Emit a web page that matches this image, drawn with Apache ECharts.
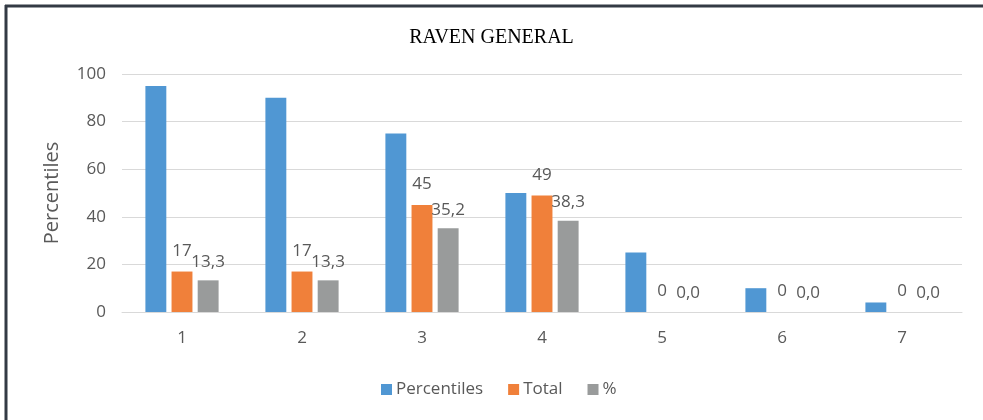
<!DOCTYPE html>
<html>
<head>
<meta charset="utf-8">
<script src="https://cdn.jsdelivr.net/npm/echarts@6/dist/echarts.min.js"></script>
<style>html,body{margin:0;padding:0;background:#fff;}#c{width:983px;height:420px;}</style>
</head>
<body>
<div id="c"></div>
<script>
var categories = ['1','2','3','4','5','6','7'];
var percentiles = [95, 90, 75, 50, 25, 10, 4];
var total = [17, 17, 45, 49, 0, 0, 0];
var pct = [13.3, 13.3, 35.2, 38.3, 0.0, 0.0, 0.0];
var seriesNames = ['Percentiles', 'Total', '%'];
var yTicks = [0, 20, 40, 60, 80, 100];

var chart = echarts.init(document.getElementById('c'));
var txt = '#595959';
var font = 'Open Sans';
chart.setOption({
  animation: false,
  backgroundColor: '#fff',
  title: {
    text: 'RAVEN GENERAL', left: 'center', top: 23,
    textStyle: { fontFamily: 'Liberation Serif', fontSize: 20, fontWeight: 'normal', color: '#000' }
  },
  graphic: [
    { type: 'line', shape: { x1: 5, y1: 6, x2: 983, y2: 6 }, style: { stroke: '#333a44', lineWidth: 3 } },
    { type: 'line', shape: { x1: 6, y1: 5, x2: 6, y2: 420 }, style: { stroke: '#333a44', lineWidth: 3 } }
  ],
  legend: {
    data: seriesNames, left: 376, top: 376, itemWidth: 11, itemHeight: 11, itemGap: 25,
    icon: 'rect',
    textStyle: { fontFamily: font, fontSize: 17, color: txt, padding: [0, 0, 0, -1] }
  },
  grid: { left: 122, right: 21, top: 74, bottom: 108 },
  xAxis: {
    type: 'category', data: categories,
    axisLine: { lineStyle: { color: '#d9d9d9' } },
    axisTick: { show: false },
    axisLabel: { fontFamily: font, fontSize: 17, color: txt, margin: 18 }
  },
  yAxis: {
    type: 'value', min: yTicks[0], max: yTicks[yTicks.length - 1], interval: 20,
    name: 'Percentiles', nameLocation: 'middle', nameGap: 60,
    nameTextStyle: { fontFamily: font, fontSize: 20, color: txt },
    axisLine: { show: false }, axisTick: { show: false },
    splitLine: { lineStyle: { color: '#d9d9d9' } },
    axisLabel: { fontFamily: font, fontSize: 17, color: txt, margin: 16 }
  },
  series: [
    { name: seriesNames[0], type: 'bar', data: percentiles, barGap: '25%', barCategoryGap: '39%',
      itemStyle: { color: '#5097d3' } },
    { name: seriesNames[1], type: 'bar', data: total, itemStyle: { color: '#f0803a' },
      label: { show: true, position: 'top', distance: 12, fontFamily: font, fontSize: 17, color: txt } },
    { name: seriesNames[2], type: 'bar', data: pct, itemStyle: { color: '#999b9b' },
      label: { show: true, position: 'top', distance: 10, fontFamily: font, fontSize: 17, color: txt,
        formatter: function (p) { return p.value.toFixed(1).replace('.', ','); } } }
  ]
});
</script>
</body>
</html>
